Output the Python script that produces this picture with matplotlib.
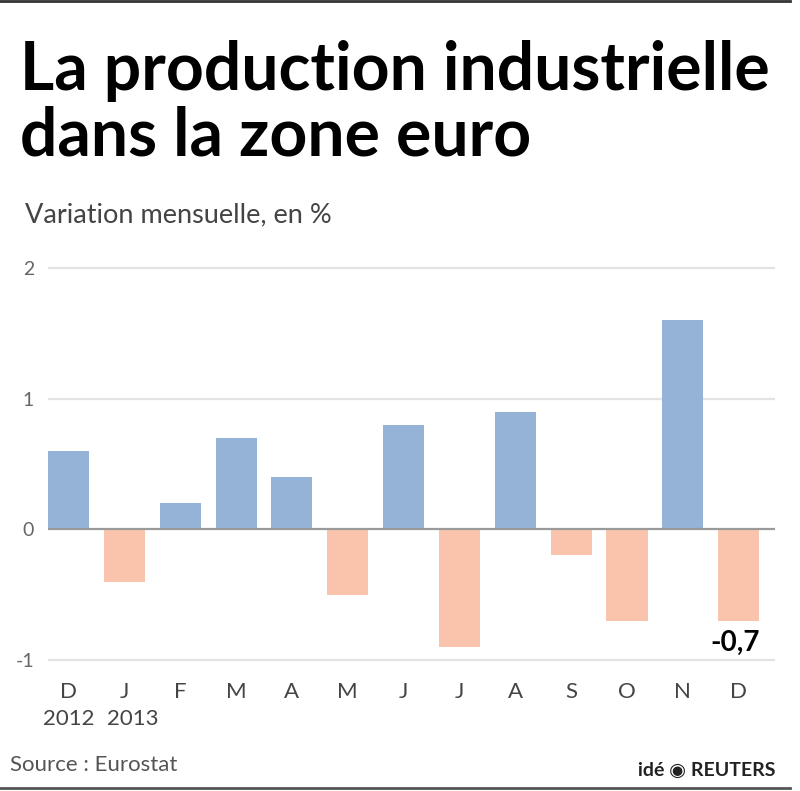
import matplotlib
matplotlib.use("Agg")
import matplotlib.pyplot as plt
from matplotlib.lines import Line2D

plt.rcParams['font.family'] = ['Lato', 'DejaVu Sans']

months = ["D", "J", "F", "M", "A", "M", "J", "J", "A", "S", "O", "N", "D"]
values = [0.6, -0.4, 0.2, 0.7, 0.4, -0.5, 0.8, -0.9, 0.9, -0.2, -0.7, 1.6, -0.7]
years = ["2012", "2013"]
yticks = [-1, 0, 1, 2]
last_label = "-0,7"

W, H = 800, 791
fig = plt.figure(figsize=(W / 100, H / 100), dpi=100)

ylo, yhi = -1.05, 2.05
ax = fig.add_axes([48 / W, 0.1574, 727 / W, 0.512])
x = list(range(len(values)))
colors = ["#95b3d7" if v >= 0 else "#f9c4ab" for v in values]
ax.bar(x, values, width=0.735, color=colors, zorder=3)
ax.set_xlim(-0.367, 12.65)
ax.set_ylim(ylo, yhi)
for t in yticks:
    if t == 0:
        ax.axhline(t, color="#9a9a9a", lw=1.6, zorder=4)
    else:
        ax.axhline(t, color="#e3e3e3", lw=1.6, zorder=1)
for s in ax.spines.values():
    s.set_visible(False)
ax.set_yticks(yticks)
ax.set_yticklabels([str(t) for t in yticks], color="#666666", fontsize=14)
ax.tick_params(axis="y", length=0, pad=10)
ax.set_xticks(x)
ax.set_xticklabels(months, fontsize=16, color="#444444")
ax.tick_params(axis="x", length=0, pad=11)
for i, yr in enumerate(years):
    ax.text(i + (0.15 if i else 0), -0.13, yr, transform=ax.get_xaxis_transform(),
            ha="center", va="center", fontsize=16, color="#444444")
ax.text(x[-1] + 0.38, values[-1] - 0.07, last_label, ha="right", va="top",
        fontsize=20, fontweight="bold", color="black", zorder=5)

fig.text(20 / W, 1 - 71 / H, "La production industrielle", fontsize=47.5,
         fontweight="bold", ha="left", va="center", color="black")
fig.text(20 / W, 1 - 137 / H, "dans la zone euro", fontsize=47.5,
         fontweight="bold", ha="left", va="center", color="black")
fig.text(25 / W, 1 - 215 / H, "Variation mensuelle, en %", fontsize=19.5,
         ha="left", va="center", color="#444444")
fig.text(10 / W, 1 - 765 / H, "Source : Eurostat", fontsize=16,
         ha="left", va="center", color="#555555")
fig.text(775 / W, 1 - 770 / H, "idé ◉ REUTERS", fontsize=14, fontweight="bold",
         ha="right", va="center", color="#222222")

fig.add_artist(Line2D([0, 790 / W], [1 - 1 / H, 1 - 1 / H], color="#333333", lw=2))
fig.add_artist(Line2D([0, 790 / W], [1 - 788 / H, 1 - 788 / H], color="#555555", lw=2))

fig.savefig("out.png", dpi=100)
